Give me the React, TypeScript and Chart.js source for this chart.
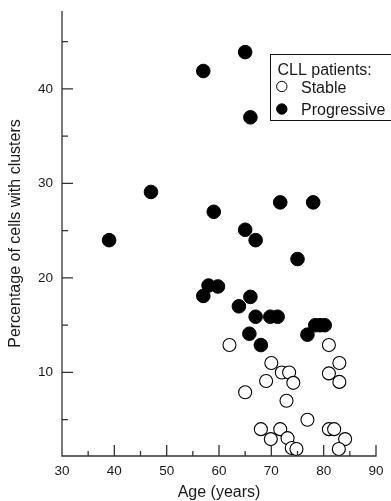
import React, { useEffect, useRef } from "react";
import { Chart, registerables } from "chart.js";

Chart.register(...registerables);

// ---- data ----
const progressiveAge = [39, 47, 57, 59, 65, 66, 71.7, 78, 65, 67, 75, 57, 58, 59.8, 63.8, 66, 67, 69.8, 71.2, 65.8, 68, 76.9, 78.4, 79.3, 80.2];
const progressivePct = [24, 29.1, 41.9, 27, 43.9, 37, 28, 28, 25.1, 24, 22, 18.1, 19.2, 19.1, 17, 18, 15.9, 15.9, 15.9, 14.1, 12.9, 14, 15, 15, 15];

const stableAge = [62, 81, 70, 83, 72, 73.4, 81, 69, 74.2, 83, 65, 72.9, 76.9, 68, 71.7, 81, 82, 69.9, 73.1, 84.1, 73.9, 74.8, 82.9];
const stablePct = [12.9, 12.9, 11, 11, 10, 10, 9.9, 9.1, 8.9, 9, 7.9, 7, 5, 4, 4, 4, 4, 2.95, 3.05, 2.95, 2, 1.9, 1.9];

const xLabelTicks = [30, 40, 50, 60, 70, 80, 90];
const xMajorTicks = [40, 50, 60, 70, 80, 90];
const xMinorTicks = [35, 45, 55, 65, 75, 85];
const yLabelTicks = [10, 20, 30, 40];
const yMinorTicks = [5, 15, 25, 35, 45];

const legendTitle = "CLL patients:";
const seriesStable = "Stable";
const seriesProgressive = "Progressive";

const FONT = "'Liberation Sans', Arial, Helvetica, sans-serif";
const INK = "#1a1a1a";

const axesPlugin = {
  id: "refAxes",
  afterDraw(chart: any) {
    const { ctx, chartArea, scales } = chart;
    const { left, right, top, bottom } = chartArea;
    const x = scales.x;
    const y = scales.y;
    ctx.save();
    ctx.strokeStyle = "#333";
    ctx.lineWidth = 1.3;
    ctx.beginPath();
    ctx.moveTo(left, top);
    ctx.lineTo(left, bottom);
    ctx.lineTo(right + 0.6, bottom);
    for (const v of yLabelTicks) {
      const py = y.getPixelForValue(v);
      ctx.moveTo(left, py);
      ctx.lineTo(left + 11, py);
    }
    for (const v of yMinorTicks) {
      const py = y.getPixelForValue(v);
      ctx.moveTo(left, py);
      ctx.lineTo(left + 6, py);
    }
    for (const v of xMajorTicks) {
      const px = x.getPixelForValue(v);
      ctx.moveTo(px, bottom);
      ctx.lineTo(px, bottom - 11);
    }
    for (const v of xMinorTicks) {
      const px = x.getPixelForValue(v);
      ctx.moveTo(px, bottom);
      ctx.lineTo(px, bottom - 5);
    }
    ctx.stroke();
    ctx.restore();
  },
};

const legendPlugin = {
  id: "refLegend",
  afterDraw(chart: any) {
    const { ctx } = chart;
    const ds = chart.data.datasets;
    ctx.save();
    ctx.strokeStyle = "#111";
    ctx.lineWidth = 1;
    ctx.strokeRect(270.5, 54.5, 140, 66);
    ctx.fillStyle = INK;
    ctx.font = `16px ${FONT}`;
    ctx.textBaseline = "alphabetic";
    ctx.textAlign = "left";
    ctx.fillText(legendTitle, 277.5, 75);
    const rows = [
      { cy: 86.5, base: 92.7 },
      { cy: 109, base: 115 },
    ];
    ds.forEach((d: any, i: number) => {
      const r = rows[i];
      ctx.beginPath();
      ctx.arc(281.8, r.cy, 5.2, 0, Math.PI * 2);
      ctx.fillStyle = d.backgroundColor;
      ctx.fill();
      ctx.lineWidth = 1;
      ctx.strokeStyle = "#000";
      ctx.stroke();
      ctx.fillStyle = INK;
      ctx.fillText(d.label, 301, r.base);
    });
    ctx.restore();
  },
};

export default function App() {
  const ref = useRef<HTMLCanvasElement | null>(null);

  useEffect(() => {
    if (!ref.current) return;
    const chart = new Chart(ref.current, {
      type: "scatter",
      data: {
        datasets: [
          {
            label: seriesStable,
            data: stableAge.map((a, i) => ({ x: a, y: stablePct[i] })),
            backgroundColor: "#ffffff",
            borderColor: "#000000",
            borderWidth: 1.1,
            pointRadius: 6.5,
            order: 1,
          },
          {
            label: seriesProgressive,
            data: progressiveAge.map((a, i) => ({ x: a, y: progressivePct[i] })),
            backgroundColor: "#000000",
            borderColor: "#000000",
            borderWidth: 1,
            pointRadius: 6.8,
            order: 2,
          },
        ],
      },
      options: {
        animation: false,
        responsive: false,
        devicePixelRatio: 1,
        layout: { padding: { top: 11, right: 15, left: 0, bottom: 0 } },
        plugins: {
          legend: { display: false },
          tooltip: { enabled: false },
        },
        scales: {
          x: {
            type: "linear",
            position: "bottom",
            min: 30,
            max: 90,
            grid: { display: false, drawTicks: false },
            border: { display: false },
            afterBuildTicks: (s: any) => {
              s.ticks = xLabelTicks.map((v) => ({ value: v }));
            },
            afterFit: (s: any) => {
              s.height = 45;
              s.paddingLeft = 0;
              s.paddingRight = 0;
            },
            ticks: {
              autoSkip: false,
              maxRotation: 0,
              padding: 7,
              color: INK,
              font: { family: FONT, size: 13.5 },
            },
            title: {
              display: true,
              text: "Age (years)",
              color: INK,
              font: { family: FONT, size: 16, lineHeight: 1 },
              padding: { top: 0, bottom: 0.5 },
            },
          },
          y: {
            type: "linear",
            position: "left",
            min: 1.16,
            max: 48.25,
            grid: { display: false, drawTicks: false },
            border: { display: false },
            afterBuildTicks: (s: any) => {
              s.ticks = yLabelTicks.map((v) => ({ value: v }));
            },
            afterFit: (s: any) => {
              s.width = 62;
              s.paddingTop = 0;
              s.paddingBottom = 0;
            },
            ticks: {
              autoSkip: false,
              padding: 9,
              color: INK,
              font: { family: FONT, size: 13.5 },
            },
            title: {
              display: true,
              text: "Percentage of cells with clusters",
              color: INK,
              font: { family: FONT, size: 16, lineHeight: 1 },
              padding: { top: 7.5, bottom: 0 },
            },
          },
        },
      },
      plugins: [axesPlugin, legendPlugin],
    });
    return () => chart.destroy();
  }, []);

  return (
    <div style={{ position: "fixed", left: 0, top: 0, width: 391, height: 501, background: "#fff" }}>
      <canvas ref={ref} width={391} height={501} style={{ display: "block" }} />
    </div>
  );
}
